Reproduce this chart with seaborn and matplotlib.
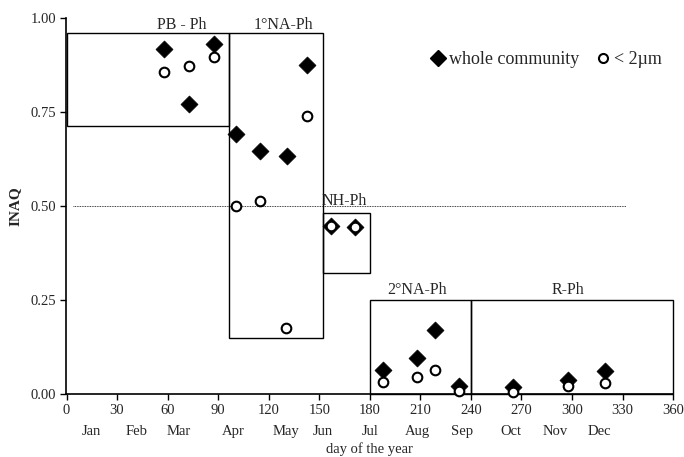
import matplotlib
matplotlib.use("Agg")
import matplotlib.pyplot as plt
import seaborn as sns
import pandas as pd
from matplotlib.patches import Rectangle
from matplotlib.lines import Line2D

# ---- data ----
whole_day = [58, 72.6, 87.5, 100.6, 115, 130.8, 142.7, 156.7, 171.5,
             187.9, 208.1, 219, 232.8, 265.2, 297.7, 319.7]
whole_val = [0.918, 0.773, 0.932, 0.692, 0.646, 0.635, 0.876, 0.449, 0.444,
             0.064, 0.097, 0.171, 0.023, 0.019, 0.039, 0.062]
small_day = [58, 72.6, 87.5, 100.6, 115, 130.5, 142.7, 156.7, 171.5,
             187.9, 208.1, 219, 232.8, 265.2, 297.7, 319.7]
small_val = [0.857, 0.872, 0.896, 0.500, 0.513, 0.177, 0.739, 0.449, 0.444,
             0.032, 0.046, 0.065, 0.009, 0.007, 0.023, 0.030]

# phases: (label, start day, end day, bottom, top)
phase_labels = ["PB - Ph", "1°NA-Ph", "NH-Ph", "2°NA-Ph", "R-Ph"]
phase_start = [0, 96.5, 152, 180, 240]
phase_end = [96.5, 152, 180, 240, 360]
phase_bottom = [0.714, 0.149, 0.323, 0.0, 0.0]
phase_top = [0.962, 0.962, 0.481, 0.25, 0.25]
label_x = [68.6, 129, 165, 208, 297.7]
label_y = [0.983, 0.983, 0.515, 0.278, 0.278]

x_ticks = list(range(0, 361, 30))
months = ["Jan", "Feb", "Mar", "Apr", "May", "Jun", "Jul", "Aug", "Sep",
          "Oct", "Nov", "Dec"]
month_pos = [14.8, 41.5, 66.7, 99, 130, 152, 180, 208, 235, 264, 290, 316]
y_ticks = [0.0, 0.25, 0.5, 0.75, 1.0]

df_w = pd.DataFrame({"day": whole_day, "INAQ": whole_val})
df_s = pd.DataFrame({"day": small_day, "INAQ": small_val})

sns.set_style("white")
plt.rcParams["font.family"] = ["Liberation Serif", "DejaVu Serif"]

fig = plt.figure(figsize=(6.84, 4.57), dpi=100)
ax = fig.add_axes([0.096, 0.137, 0.888, 0.823])

# phase boxes
for lab, x0, x1, b, t, lx, ly in zip(phase_labels, phase_start, phase_end,
                                      phase_bottom, phase_top, label_x, label_y):
    ax.add_patch(Rectangle((x0, b), x1 - x0, t - b, fill=False,
                           edgecolor="black", linewidth=1.0, zorder=1,
                           clip_on=False))
    ax.text(lx, ly, lab, ha="center", va="center", fontsize=11.5, zorder=3)

# dotted reference line
ax.plot([4, 332], [0.5, 0.5], color="black", linestyle=(0, (1, 1)),
        linewidth=0.6, zorder=1)

sns.scatterplot(data=df_w, x="day", y="INAQ", marker="D", s=75,
                color="black", edgecolor="black", linewidth=0.5, ax=ax,
                zorder=4, clip_on=False)
sns.scatterplot(data=df_s, x="day", y="INAQ", marker="o", s=48,
                color="white", edgecolor="black", linewidth=1.5, ax=ax,
                zorder=5, clip_on=False)

ax.set_xlim(-0.5, 360)
ax.set_ylim(0, 1.0)
ax.set_xticks(x_ticks)
ax.set_xticklabels([str(t) for t in x_ticks], fontsize=10.5)
ax.set_yticks(y_ticks)
ax.set_yticklabels([f"{v:.2f}" for v in y_ticks], fontsize=10.5)
for s in ["top", "right"]:
    ax.spines[s].set_visible(False)
for s in ["left", "bottom"]:
    ax.spines[s].set_linewidth(1.2)
    ax.spines[s].set_color("black")
ax.tick_params(axis="both", direction="out", length=4, width=1.0,
               color="black", left=True, bottom=True, pad=3)

for m, p in zip(months, month_pos):
    ax.text(p, -0.098, m, ha="center", va="center", fontsize=10.5,
            transform=ax.transData, clip_on=False)

ax.set_xlabel("day of the year", fontsize=10.5)
ax.xaxis.set_label_coords(0.5, -0.128)
ax.set_ylabel("INAQ", fontsize=11, fontweight="bold", labelpad=6)

handles = [
    Line2D([], [], marker="D", linestyle="none", markerfacecolor="black",
           markeredgecolor="black", markersize=8),
    Line2D([], [], marker="o", linestyle="none", markerfacecolor="white",
           markeredgecolor="black", markeredgewidth=1.5, markersize=6.5),
]
ax.legend(handles, ["whole community", "< 2µm"], ncol=2, frameon=False,
          loc="center", bbox_to_anchor=(0.79, 0.89), fontsize=13,
          handletextpad=0.1, columnspacing=0.8, handlelength=1.0)

fig.savefig("out.png", dpi=100)
